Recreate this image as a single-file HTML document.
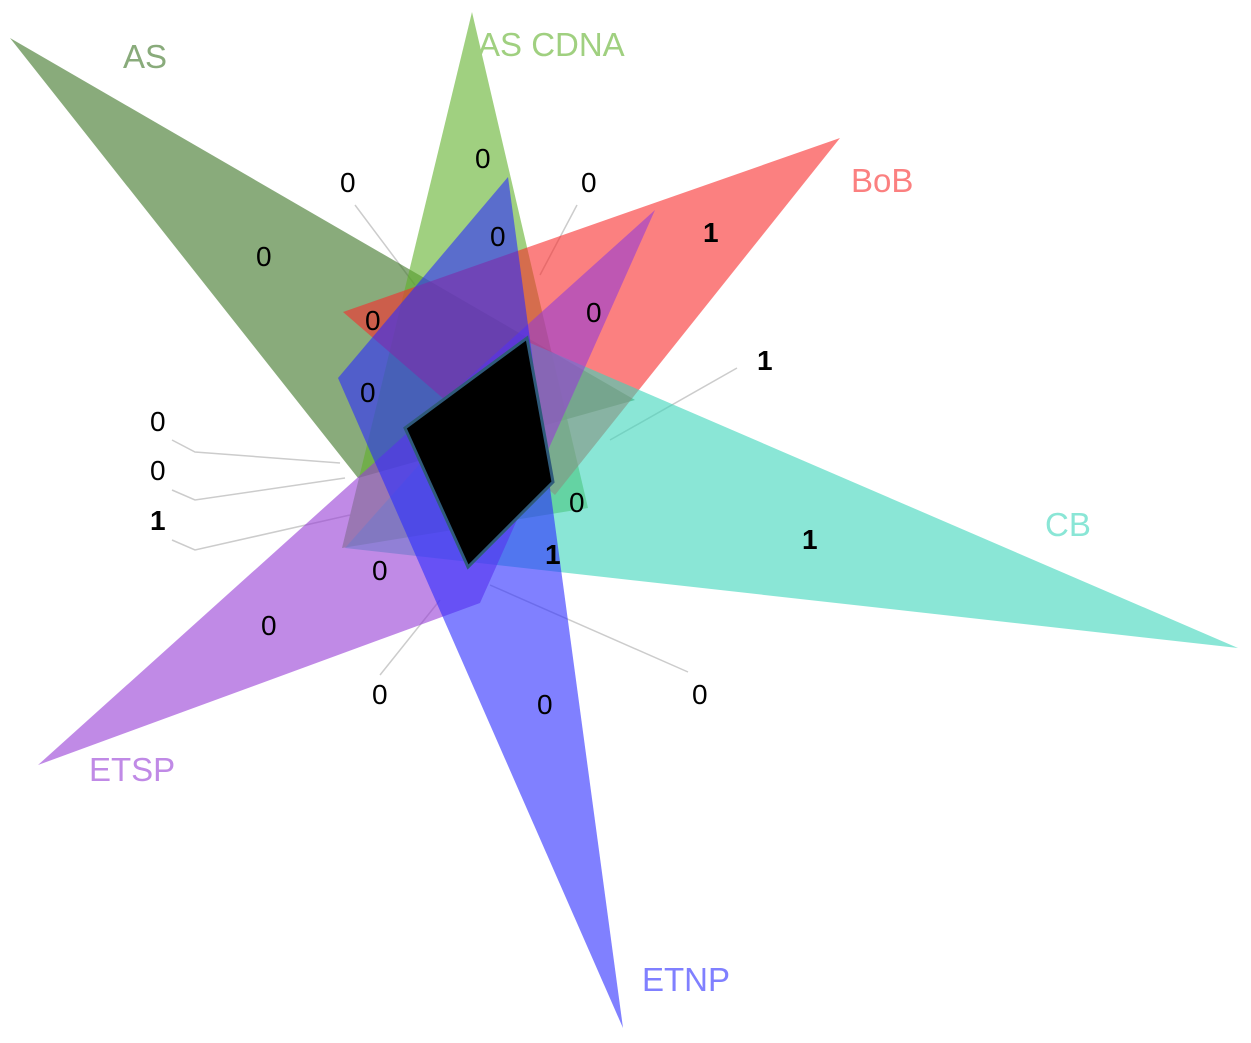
<!DOCTYPE html>
<html><head><meta charset="utf-8"><style>
html,body{margin:0;padding:0;background:#fff;}
svg{display:block;}
text{font-family:"Liberation Sans",sans-serif;}
.n{font-size:28px;fill:#000;}
.b{font-weight:bold;}
.t{font-size:33px;}
</style></head><body>
<svg width="1251" height="1043" viewBox="0 0 1251 1043">
<g stroke="#ccc" stroke-width="1.5" fill="none">
<polyline points="172,440 195,452 340,463"/>
<polyline points="172,490 195,500 345,478"/>
<polyline points="172,540 195,550 350,515"/>
<polyline points="355,205 415,285"/>
<polyline points="577,205 540,275"/>
<polyline points="737,368 610,440"/>
<polyline points="380,675 440,600"/>
<polyline points="688,672 490,585"/>
</g>
<g fill-opacity="0.6">
<polygon points="10,38 635,400 358,478" fill="#3a7323"/>
<polygon points="472,12 588,508 342,548" fill="#61b12b"/>
<polygon points="840,138 343,312 555,495" fill="#f82b2b"/>
<polygon points="1238,648 528,342 345,548" fill="#3cd5bb"/>
<polygon points="38,765 655,210 480,603" fill="#963cd5"/>
<polygon points="508,177 338,378 623,1028" fill="#2b2bff"/>
</g>
<polygon points="405,428 527,338 553,482 468,567" fill="#000" stroke="#2f5a7a" stroke-width="3"/>
<text class="t" x="123" y="68" fill="#89ab7b">AS</text>
<text class="t" x="478" y="56" fill="#a0d080">AS CDNA</text>
<text class="t" x="851" y="192" fill="#fb8080">BoB</text>
<text class="t" x="1045" y="536" fill="#8ae6d6">CB</text>
<text class="t" x="89" y="781" fill="#c08ae6">ETSP</text>
<text class="t" x="642" y="991" fill="#8080ff">ETNP</text>
<g class="n">
<text x="256" y="266">0</text>
<text x="475" y="168">0</text>
<text x="340" y="192">0</text>
<text x="581" y="192">0</text>
<text x="490" y="246">0</text>
<text class="b" x="703" y="242">1</text>
<text x="365" y="330">0</text>
<text x="586" y="322">0</text>
<text class="b" x="757" y="370">1</text>
<text x="360" y="402">0</text>
<text x="150" y="431">0</text>
<text x="150" y="480">0</text>
<text class="b" x="150" y="530">1</text>
<text x="569" y="512">0</text>
<text class="b" x="545" y="564">1</text>
<text class="b" x="802" y="549">1</text>
<text x="372" y="580">0</text>
<text x="261" y="635">0</text>
<text x="372" y="704">0</text>
<text x="537" y="714">0</text>
<text x="692" y="704">0</text>
</g>
</svg>
</body></html>
